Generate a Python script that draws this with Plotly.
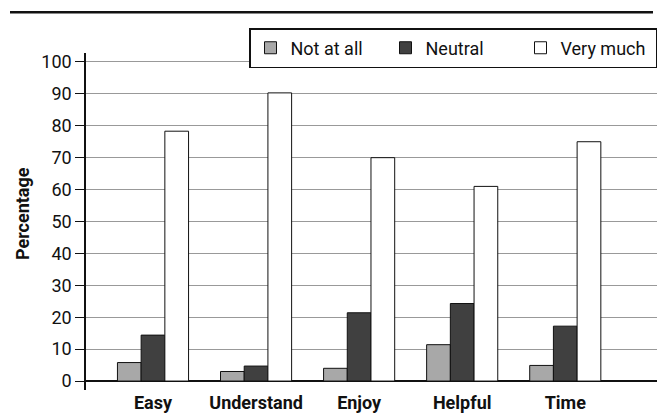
import plotly.graph_objects as go

categories = ["Easy", "Understand", "Enjoy", "Helpful", "Time"]
not_at_all = [5.8, 3.0, 4.0, 11.4, 4.9]
neutral = [14.4, 4.7, 21.4, 24.3, 17.2]
very_much = [78.3, 90.3, 70.0, 61.0, 75.0]
y_ticks = [0, 10, 20, 30, 40, 50, 60, 70, 80, 90, 100]

FONT = "Roboto, Liberation Sans, sans-serif"

fig = go.Figure()
series = [("Not at all", not_at_all, "#a8a8a8"),
          ("Neutral", neutral, "#404040"),
          ("Very much", very_much, "#ffffff")]
for name, vals, col in series:
    fig.add_trace(go.Bar(
        x=categories, y=vals, name=name,
        marker=dict(color=col, line=dict(color="#111111", width=1)),
    ))

fig.update_layout(
    width=663, height=419,
    margin=dict(l=86, r=6, t=53, b=27),
    paper_bgcolor="white", plot_bgcolor="white",
    barmode="group", bargap=0.31, bargroupgap=0,
    font=dict(family=FONT, size=17, color="#111111"),
    showlegend=True,
    legend=dict(
        orientation="h", x=1.0, xanchor="right", y=1.074, yanchor="top",
        bordercolor="#111111", borderwidth=1.5, bgcolor="white",
        font=dict(family=FONT, size=18, color="#111111"),
        traceorder="normal", entrywidth=90, entrywidthmode="pixels",
    ),
    xaxis=dict(
        type="category", range=[-0.65, 4.89],
        showgrid=False, showline=False, zeroline=False,
        ticks="", tickfont=dict(family=FONT, size=18, color="#111111", weight="bold"),
    ),
    yaxis=dict(
        range=[-2.8, 102.8], tickvals=y_ticks,
        showgrid=True, gridcolor="#999999", gridwidth=1,
        zeroline=True, zerolinecolor="#111111", zerolinewidth=1.5,
        showline=True, linecolor="#111111", linewidth=1.5,
        ticks="outside", ticklen=9, tickcolor="#111111", tickwidth=1,
        tickfont=dict(family=FONT, size=18, color="#111111"),
    ),
)

fig.add_annotation(text="Percentage", xref="paper", yref="paper",
                   x=-64/571, y=(392-215)/339, xanchor="center", yanchor="middle",
                   textangle=-90, showarrow=False,
                   font=dict(family=FONT, size=18, color="#111111", weight="bold"))

fig.add_shape(type="line", xref="paper", yref="paper",
              x0=-76/571, x1=567/571, y0=(392-12)/339, y1=(392-12)/339,
              line=dict(color="#111111", width=2.5))

fig.write_html("out.html", config={"displayModeBar": False},
               post_script="document.body.style.margin='0';document.body.style.padding='0';")
